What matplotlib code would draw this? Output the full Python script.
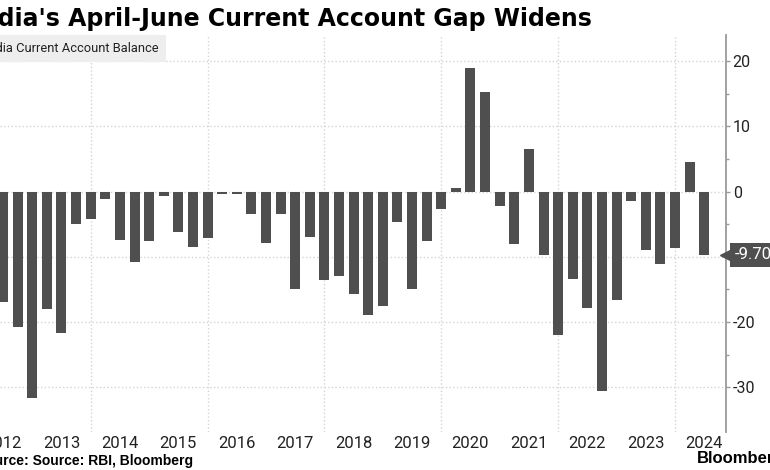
import matplotlib.pyplot as plt
from matplotlib.patches import Rectangle
from matplotlib.ticker import FixedLocator

# India current account balance, USD bn, by quarter (label = calendar quarter)
quarters = [
    "2012Q2", "2012Q3", "2012Q4",
    "2013Q1", "2013Q2", "2013Q3", "2013Q4",
    "2014Q1", "2014Q2", "2014Q3", "2014Q4",
    "2015Q1", "2015Q2", "2015Q3", "2015Q4",
    "2016Q1", "2016Q2", "2016Q3", "2016Q4",
    "2017Q1", "2017Q2", "2017Q3", "2017Q4",
    "2018Q1", "2018Q2", "2018Q3", "2018Q4",
    "2019Q1", "2019Q2", "2019Q3", "2019Q4",
    "2020Q1", "2020Q2", "2020Q3", "2020Q4",
    "2021Q1", "2021Q2", "2021Q3", "2021Q4",
    "2022Q1", "2022Q2", "2022Q3", "2022Q4",
    "2023Q1", "2023Q2", "2023Q3", "2023Q4",
    "2024Q1", "2024Q2",
]
balance = [
    -16.9, -20.8, -31.7,
    -18.0, -21.7, -5.0, -4.2,
    -1.2, -7.4, -10.8, -7.6,
    -0.6, -6.2, -8.5, -7.1,
    -0.3, -0.4, -3.5, -7.9,
    -3.4, -14.9, -6.9, -13.5,
    -12.9, -15.7, -18.9, -17.6,
    -4.7, -14.9, -7.5, -2.6,
    0.6, 19.0, 15.2, -2.2,
    -8.0, 6.6, -9.7, -22.0,
    -13.4, -17.8, -30.6, -16.6,
    -1.4, -8.9, -11.1, -8.7,
    4.6, -9.7,
]
year_labels = list(range(2012, 2025))
grid_years = [2014, 2016, 2018, 2020, 2022, 2024]
yticks = [-30, -20, -10, 0, 10, 20]
ytick_labels = ["-30", "-20", "", "0", "10", "20"]

title = "India's April-June Current Account Gap Widens"
legend_label = "India Current Account Balance"
source = "Source: Source: RBI, Bloomberg"

W, H = 770, 470
narrow = ["DejaVu Sans Condensed", "Roboto", "DejaVu Sans"]
bold_sans = ["Liberation Sans", "DejaVu Sans"]
bar_color = "#4f4f4f"

def fx(px): return px / W
def fy(py): return 1 - py / H

fig = plt.figure(figsize=(7.7, 4.7), dpi=100)
ax = fig.add_axes([0, fy(431.7), fx(725.7), (431.7 - 35) / H])

# bars sit at the end of each quarter
xpos = [int(q[:4]) + int(q[-1]) / 4 for q in quarters]
ax.bar(xpos, balance, width=0.171, color=bar_color, zorder=3)

ax.set_xlim(2012.448, 2024.868)
ax.set_ylim(-36.8, 24.0)

for s in ["left", "top", "bottom"]:
    ax.spines[s].set_visible(False)
ax.spines["right"].set_color("#9a9a9a")
ax.spines["right"].set_linewidth(1.3)

ax.yaxis.tick_right()
ax.set_yticks(yticks)
ax.set_yticklabels(ytick_labels, family=narrow, fontsize=11.5, color="#222222")
ax.yaxis.set_minor_locator(FixedLocator([v + 5 for v in yticks]))
ax.tick_params(axis="y", which="major", length=3, width=1, color="#9a9a9a", pad=2)
ax.tick_params(axis="y", which="minor", length=2, width=1, color="#9a9a9a")

ax.xaxis.set_major_locator(FixedLocator(grid_years))
ax.xaxis.set_minor_locator(FixedLocator([y + 0.5 for y in year_labels]))
ax.xaxis.set_major_formatter(plt.NullFormatter())
ax.set_xticklabels([str(y) for y in year_labels], minor=True,
                   family=narrow, fontsize=12, color="#222222")
ax.tick_params(axis="x", which="both", length=0, pad=3)

ax.grid(True, axis="y", which="major", linestyle=":", color="#d4d4d4", linewidth=1, zorder=0)
ax.grid(True, axis="x", which="major", linestyle=":", color="#d4d4d4", linewidth=1, zorder=0)

# last value callout on the axis
last = balance[-1]
tr = ax.get_yaxis_transform()
ax.plot([1.0], [last], marker="<", markersize=9, color=bar_color,
        transform=tr, clip_on=False, zorder=5)
ax.text(1.012, last, f"{last:.2f}", transform=tr, ha="left", va="center",
        family=narrow, fontsize=12, color="white", clip_on=False, zorder=6,
        bbox=dict(boxstyle="square,pad=0.25", fc=bar_color, ec="none"))

# header and footer
fig.text(fx(592), fy(26), title, ha="right", va="baseline",
         family=["DejaVu Sans"], weight="bold", fontsize=17)
fig.patches.append(Rectangle((0, fy(62)), fx(166), (62 - 35) / H,
                             transform=fig.transFigure, fc="#eeeeee", ec="none"))
fig.text(fx(159), fy(49), legend_label, ha="right", va="center",
         family=narrow, fontsize=9.3, color="#222222")
fig.text(fx(193), fy(461), source, ha="right", va="center",
         family=bold_sans, weight="bold", fontsize=10)
fig.text(fx(697), fy(459), "Bloomberg", ha="left", va="center",
         family=bold_sans, weight="bold", fontsize=12)

fig.savefig("out.png", dpi=100)
